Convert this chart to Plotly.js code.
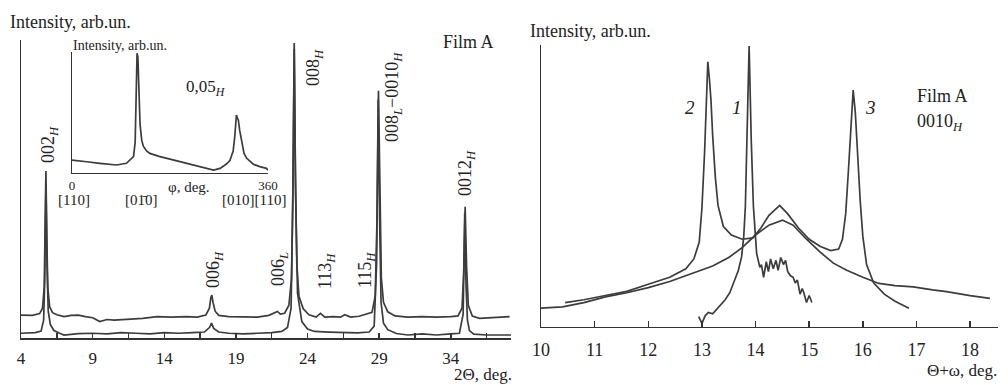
<!DOCTYPE html>
<html>
<head>
<meta charset="utf-8">
<script src="https://cdn.plot.ly/plotly-3.0.1.min.js"></script>
<style>html,body{margin:0;padding:0;background:#fff;}#chart{width:1008px;height:385px;}</style>
</head>
<body>
<div id="chart"></div>
<script>
// ---- Left panel: 2Theta scan (two curves) ----
const upperX = [4,4.8,5.3,5.5,5.62,5.68,5.74,5.8,5.87,6.0,6.2,6.5,7,7.5,8,8.5,9,9.5,10,10.5,11.5,12.5,13.5,14.5,15.5,16.3,16.9,17.15,17.25,17.32,17.4,17.55,17.8,18.5,19.5,20.5,21.3,21.7,21.9,22.1,22.4,22.7,22.88,22.98,23.07,23.15,23.25,23.4,23.7,24.1,24.6,24.9,25.2,25.8,26.3,26.6,27.0,27.6,28.2,28.5,28.72,28.85,28.95,29.05,29.15,29.3,29.6,30.1,31,32,33,34,34.5,34.78,34.9,35.0,35.1,35.22,35.5,36,37,38.1];
const upperY = [7.7,7.6,8.2,10,17,33,56,34,17,10.5,8.5,7.8,7.2,7.6,7.7,7.2,6.8,5.5,6.2,6.0,6.3,6.6,7.2,7.0,7.2,7.0,7.7,10,13.5,14.4,12,9,7.6,7.2,7.1,7.0,7.6,8.6,8.9,8.0,8.3,11,20,50,99,55,25,14,9.8,7.8,7.0,8.3,7.0,7.2,7.0,7.8,7.0,7.3,8.3,8.6,14,40,83,45,20,12,8.8,7.4,7.0,7.2,7.0,7.2,7.4,10,22,44,24,11,7.4,6.6,7.0,7.2];
const lowerX = [4,5,5.4,5.58,5.66,5.74,5.82,5.9,6.05,6.3,6.7,7,8,9,10,11,12,13,14,15,16,16.8,17.15,17.3,17.45,17.8,18.5,19.5,20.5,21.5,22.2,22.6,22.85,22.97,23.07,23.17,23.3,23.6,24.0,24.5,25.5,26.5,27.5,28.3,28.65,28.82,28.93,29.03,29.13,29.3,29.6,30.2,31,32,33,34,34.6,34.86,34.97,35.06,35.16,35.3,35.6,36.5,37.5,38.2];
const lowerY = [1.6,1.8,2.3,6,20,52,24,9,4.5,2.5,1.6,1.0,1.5,1.6,1.4,1.8,1.6,1.4,1.8,1.6,1.8,2.0,3.5,5,3.2,2.0,1.6,1.4,1.6,1.8,2.2,3.5,10,45,97,48,15,5.5,3.0,2.2,2.0,1.9,1.7,2.0,4,25,80,40,12,5,2.8,1.5,1.0,1.4,1.0,1.4,1.6,8,42,18,6,2.5,1.3,1.0,1.0,1.0];
const leftTickVals = [4,6.5,9,11.5,14,16.5,19,21.5,24,26.5,29,31.5,34,36.5];
const leftTickText = ['4','','9','','14','','19','','24','','29','','34',''];

// ---- Inset: phi scan ----
const phiX = [0,15,27,51,82,100,108,113,116,118,119.5,121,122.5,125,128,131,137,143,160,174,204,235,260,272,283,290,296,299,302,304,305.5,308,312,316,321,333,345,357,360];
const phiY = [10.5,10,9.1,7.8,6.4,7.8,11,13.3,25,60,99,96,70,40,27,22,18,16,13.5,11.9,8.5,5,2.2,3.6,7,10,18,30,47.8,45,43.7,35,24.4,16,11.9,7,5,3.6,2.2];
const phiTickVals = [0,360];
const phiTickText = ['0','360'];

// ---- Right panel: Theta+omega scans ----
const c1X = [12.94,13.0,13.06,13.12,13.2,13.3,13.43,13.52,13.61,13.68,13.74,13.78,13.81,13.84,13.88,13.92,13.96,14.02,14.08,14.11,14.15,14.2,14.24,14.28,14.33,14.38,14.42,14.47,14.52,14.56,14.6,14.65,14.7,14.74,14.78,14.83,14.87,14.9,14.95,15.0,15.05];
const c1Y = [3.5,1.1,3.8,5,4.5,6.5,9.4,12,16.5,20,24.8,32,42.6,66,99.6,66,42.6,26,21,22,17.5,23,19.5,24,20.5,23.5,20,24.5,22,23.5,19.5,18,17.5,15.5,16.5,11.5,13.5,12,8.5,11,8.5];
const c23X = [10.45,10.8,11.2,11.6,12.0,12.4,12.7,12.85,12.95,13.0,13.05,13.08,13.11,13.14,13.17,13.2,13.25,13.3,13.4,13.55,13.75,13.95,14.1,14.25,14.45,14.6,14.8,15.0,15.2,15.4,15.55,15.62,15.68,15.73,15.78,15.82,15.86,15.9,15.95,16.0,16.07,16.2,16.4,16.6,16.86];
const c23Y = [8.5,9.5,11,12.5,15,17.5,20.5,24,30,42,62,82,94,88,80,68,53,43,35.5,32.5,31,31.5,35,39.5,43,40,35,31,28.5,27,27.5,31,40,55,72,84,76,62,45,32,22,15.5,11.5,9,6.5];
const broadX = [9.96,10.4,10.8,11.2,11.6,12.0,12.4,12.8,13.2,13.5,13.75,14.0,14.25,14.5,14.7,14.95,15.2,15.45,15.7,16.0,16.3,16.6,16.94,17.3,17.56,18.0,18.37];
const broadY = [6.5,7,8.5,10.5,12,13.8,16,18.8,21.5,24.5,28,32.5,36,37.8,36,31,26.5,22.5,20,17.5,15.3,14.5,14.1,13,12.4,11,10];
const rightTickVals = [10,11,12,13,14,15,16,17,18];

const W = 1008, H = 385;
const FONT = 'Liberation Serif, Times New Roman, serif';
const TXT = '#222';
const LINE = {color:'#3c3c3c', width:1.7};

function tr(x, y, xa, ya){
  return {x:x, y:y, xaxis:xa, yaxis:ya, type:'scatter', mode:'lines', line:LINE, hoverinfo:'skip', showlegend:false};
}
const data = [
  tr(lowerX, lowerY, 'x', 'y'),
  tr(upperX, upperY, 'x', 'y'),
  tr(phiX, phiY, 'x3', 'y3'),
  tr(broadX, broadY, 'x2', 'y2'),
  tr(c23X, c23Y, 'x2', 'y2'),
  tr(c1X, c1Y, 'x2', 'y2')
];

function ann(text, px, py, size, o){
  o = o || {};
  return Object.assign({text:text, x:px/W, y:1-py/H, xref:'paper', yref:'paper', showarrow:false,
    xanchor:'center', yanchor:'middle', font:{family:FONT, size:size, color:TXT}}, o);
}
const sub = s => '<sub><i>' + s + '</i></sub>';
const annotations = [
  ann('Intensity, arb.un.', 8, 22, 18, {xanchor:'left'}),
  ann('Film A', 441, 42, 18, {xanchor:'left'}),
  ann('2Θ, deg.', 452, 374, 17, {xanchor:'left'}),
  ann('002' + sub('H'), 49, 145, 18, {textangle:-90}),
  ann('006' + sub('H'), 214, 270, 18, {textangle:-90}),
  ann('006' + sub('L'), 279, 269, 18, {textangle:-90}),
  ann('008' + sub('H'), 314, 68, 18, {textangle:-90}),
  ann('113' + sub('H'), 326, 271, 18, {textangle:-90}),
  ann('115' + sub('H'), 366, 270, 18, {textangle:-90}),
  ann('008' + sub('L') + '−0010' + sub('H'), 394, 97, 18, {textangle:-90}),
  ann('0012' + sub('H'), 466, 173, 18, {textangle:-90}),
  // inset
  ann('Intensity, arb.un.', 120, 45, 14),
  ann('0,05' + sub('H'), 206, 88, 17),
  ann('φ, deg.', 189, 187, 15),
  ann('[110]', 74, 200, 15),
  ann('[01\u03040]', 141, 200, 15),
  ann('[010][110]', 254, 200, 15),
  // right panel
  ann('Intensity, arb.un.', 528, 31, 18, {xanchor:'left'}),
  ann('<i>2</i>', 690, 107, 19),
  ann('<i>1</i>', 737, 107, 19),
  ann('<i>3</i>', 870, 107, 19),
  ann('Film A', 915, 96, 18, {xanchor:'left'}),
  ann('0010' + sub('H'), 915, 122, 18, {xanchor:'left'}),
  ann('Θ+ω, deg.', 925, 370, 17, {xanchor:'left'})
];

const axBase = {showgrid:false, zeroline:false, showline:true, linecolor:'#333', linewidth:1.5,
  tickfont:{family:FONT, size:17, color:TXT}, tickcolor:'#333', fixedrange:true};
const layout = {
  width:W, height:H, margin:{l:0, r:0, t:0, b:0},
  paper_bgcolor:'#fff', plot_bgcolor:'rgba(0,0,0,0)',
  font:{family:FONT, color:TXT},
  showlegend:false,
  xaxis: Object.assign({}, axBase, {domain:[21/W, 511/W], range:[4, 38.2], anchor:'y',
    tickmode:'array', tickvals:leftTickVals, ticktext:leftTickText, ticks:'inside', ticklen:5, tickwidth:1.5, ticklabelstandoff:4}),
  yaxis: Object.assign({}, axBase, {domain:[1-338/H, 1-40/H], range:[0, 100], anchor:'x',
    showticklabels:false, ticks:''}),
  xaxis2: Object.assign({}, axBase, {domain:[541/W, 998/W], range:[10, 18.52], anchor:'y2',
    tickmode:'array', tickvals:rightTickVals, ticks:'inside', ticklen:6, tickwidth:1.5,
    tickfont:{family:FONT, size:18, color:TXT}, ticklabelstandoff:6}),
  yaxis2: Object.assign({}, axBase, {domain:[1-326.5/H, 1-45/H], range:[0, 100], anchor:'x2',
    showticklabels:false, ticks:''}),
  xaxis3: Object.assign({}, axBase, {domain:[72/W, 268/W], range:[0, 360], anchor:'y3',
    tickmode:'array', tickvals:phiTickVals, ticktext:phiTickText, ticks:'',
    tickfont:{family:FONT, size:13, color:TXT}}),
  yaxis3: Object.assign({}, axBase, {domain:[1-172.7/H, 1-52/H], range:[0, 100], anchor:'x3',
    showticklabels:false, ticks:''}),
  annotations: annotations
};
Plotly.newPlot('chart', data, layout, {displayModeBar:false, staticPlot:true});
</script>
</body>
</html>
